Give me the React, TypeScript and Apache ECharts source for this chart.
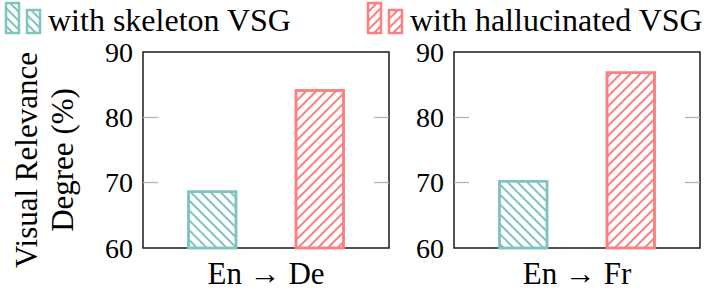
import React, { useEffect, useRef } from "react";
import * as echarts from "echarts";

const categoriesDe = ["En → De"];
const categoriesFr = ["En → Fr"];
const skeletonVSG = [68.8, 70.4];
const hallucinatedVSG = [84.3, 87.0];
const yTicks = [60, 70, 80, 90];
const legendNames = ["with skeleton VSG", "with hallucinated VSG"];
const yTitle = ["Visual Relevance", "Degree (%)"];

const TEAL = "#80c3bf";
const RED = "#fd7f7f";
const FONT = "Liberation Serif";

function hatchLines(x0: number, y0: number, x1: number, y1: number, dir: number, step: number, color: string) {
  const out: any[] = [];
  if (dir === 1) {
    for (let c = y0 - x1; c <= y1 - x0; c += step) {
      const xa = Math.max(x0, y0 - c);
      const xb = Math.min(x1, y1 - c);
      if (xb - xa < 0.5) continue;
      out.push({ type: "line", shape: { x1: xa, y1: xa + c, x2: xb, y2: xb + c }, style: { stroke: color, lineWidth: 2 }, silent: true });
    }
  } else {
    for (let c = x0 + y0; c <= x1 + y1; c += step) {
      const xa = Math.max(x0, c - y1);
      const xb = Math.min(x1, c - y0);
      if (xb - xa < 0.5) continue;
      out.push({ type: "line", shape: { x1: xa, y1: c - xa, x2: xb, y2: c - xb }, style: { stroke: color, lineWidth: 2 }, silent: true });
    }
  }
  return out;
}

function legendIcon(x: number, color: string, dir: number) {
  const els: any[] = [];
  const boxes = [
    { x: x, y: 3, w: 13, h: 30 },
    { x: x + 21, y: 10, w: 13, h: 23 },
  ];
  boxes.forEach((b) => {
    els.push({ type: "rect", shape: { x: b.x, y: b.y, width: b.w, height: b.h }, style: { fill: "#fff", stroke: "none" }, silent: true });
    els.push(...hatchLines(b.x, b.y, b.x + b.w, b.y + b.h, dir, 9, color));
    els.push({ type: "rect", shape: { x: b.x, y: b.y, width: b.w, height: b.h }, style: { fill: "none", stroke: color, lineWidth: 2.5 }, silent: true });
  });
  return els;
}

const txt = (x: number, y: number, text: string, size: number, align: string, rotation = 0) => ({
  type: "text",
  x,
  y,
  rotation,
  style: { text, fontFamily: FONT, fontSize: size, fill: "#000", align, verticalAlign: "middle" },
});

export default function App() {
  const ref = useRef<HTMLDivElement>(null);
  useEffect(() => {
    if (!ref.current) return;
    const chart = echarts.init(ref.current, null, { renderer: "svg" });
    const grids = [
      { left: 143, top: 52, width: 246, height: 196 },
      { left: 454, top: 52, width: 246, height: 196 },
    ];
    const decal = (color: string, rot: number) => ({
      symbol: "rect",
      symbolSize: 1,
      color: color,
      backgroundColor: "#fff",
      dashArrayX: [1, 0],
      dashArrayY: [2, 4.6],
      rotation: rot,
    });
    const barStyle = (color: string, rot: number) => ({
      color: "#fff",
      borderColor: color,
      borderWidth: 2.5,
      decal: decal(color, rot),
    });
    const xAxisBase = {
      type: "category",
      axisLine: { show: false },
      axisTick: { show: false },
      axisLabel: { color: "#000", fontFamily: FONT, fontSize: 31, margin: 10 },
    };
    const yAxisBase = (gridIndex: number, pos: string, showLabel: boolean) => ({
      type: "value",
      gridIndex,
      position: pos,
      min: yTicks[0],
      max: yTicks[yTicks.length - 1],
      interval: 10,
      axisLine: { show: false },
      splitLine: { show: false },
      axisTick: {
        show: true,
        inside: true,
        length: 15,
        customValues: yTicks.slice(1, -1),
        lineStyle: { color: "#b3b3b3", width: 1.3 },
      },
      axisLabel: {
        show: showLabel,
        color: "#000",
        fontFamily: FONT,
        fontSize: 28,
        margin: 10,
        customValues: yTicks,
      },
    });
    chart.setOption({
      animation: false,
      grid: grids.map((g) => ({ ...g, show: true, borderColor: "#1a1a1a", borderWidth: 1.5, backgroundColor: "transparent" })),
      xAxis: [
        { ...xAxisBase, gridIndex: 0, data: categoriesDe },
        { ...xAxisBase, gridIndex: 1, data: categoriesFr },
      ],
      yAxis: [
        yAxisBase(0, "left", true),
        yAxisBase(0, "right", false),
        yAxisBase(1, "left", true),
        yAxisBase(1, "right", false),
      ],
      series: [
        { type: "bar", name: legendNames[0], xAxisIndex: 0, yAxisIndex: 0, data: [skeletonVSG[0]], barWidth: 50, barGap: "115%", itemStyle: barStyle(TEAL, Math.PI / 4) },
        { type: "bar", name: legendNames[1], xAxisIndex: 0, yAxisIndex: 0, data: [hallucinatedVSG[0]], barWidth: 50, barGap: "115%", itemStyle: barStyle(RED, -Math.PI / 4) },
        { type: "bar", name: legendNames[0], xAxisIndex: 1, yAxisIndex: 2, data: [skeletonVSG[1]], barWidth: 50, barGap: "115%", itemStyle: barStyle(TEAL, Math.PI / 4) },
        { type: "bar", name: legendNames[1], xAxisIndex: 1, yAxisIndex: 2, data: [hallucinatedVSG[1]], barWidth: 50, barGap: "115%", itemStyle: barStyle(RED, -Math.PI / 4) },
      ],
      graphic: [
        ...legendIcon(6, TEAL, 1),
        txt(48, 20, legendNames[0], 32, "left"),
        ...legendIcon(368, RED, -1),
        txt(410, 20, legendNames[1], 32, "left"),
        txt(26, 160, yTitle[0], 31, "center", Math.PI / 2),
        txt(62, 160, yTitle[1], 31, "center", Math.PI / 2),
      ],
    });
    return () => chart.dispose();
  }, []);
  return <div ref={ref} style={{ position: "fixed", left: 0, top: 0, width: 722, height: 300, background: "#fff" }} />;
}
